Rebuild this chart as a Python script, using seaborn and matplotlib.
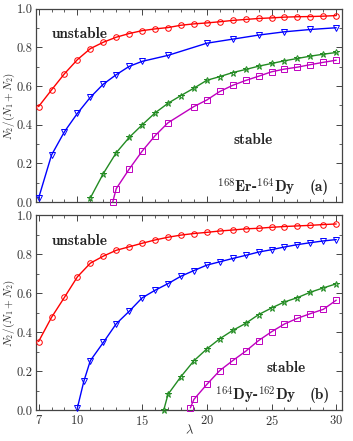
import numpy as np
import pandas as pd
import matplotlib
matplotlib.use("Agg")
import matplotlib.pyplot as plt
from matplotlib.ticker import MultipleLocator, FixedLocator
import seaborn as sns

# ---- data ----
# panel (a): 168Er-164Dy
a_red_x = list(range(7, 31))
a_red_y = [0.494, 0.58, 0.664, 0.737, 0.794, 0.827, 0.853, 0.872, 0.887, 0.896, 0.903, 0.915,
           0.922, 0.927, 0.933, 0.94, 0.945, 0.95, 0.953, 0.957, 0.959, 0.96, 0.962, 0.965]
a_blue_x = [7, 8, 9, 10, 11, 12, 13, 14, 15, 17, 20, 22, 24, 26, 28, 30]
a_blue_y = [0.02, 0.243, 0.364, 0.459, 0.542, 0.61, 0.659, 0.702, 0.728, 0.759,
            0.822, 0.843, 0.864, 0.881, 0.893, 0.902]
a_green_x = list(range(11, 31))
a_green_y = [0.021, 0.147, 0.255, 0.334, 0.399, 0.461, 0.511, 0.551, 0.589, 0.63,
             0.649, 0.67, 0.686, 0.703, 0.717, 0.731, 0.743, 0.755, 0.765, 0.774]
a_mag_x = [12.73, 13, 14, 15, 16, 17, 19, 20, 21, 22, 23, 24, 25, 26, 27, 28, 29, 30]
a_mag_y = [0.0, 0.069, 0.17, 0.263, 0.343, 0.41, 0.494, 0.528, 0.572, 0.604,
           0.629, 0.651, 0.674, 0.688, 0.698, 0.711, 0.723, 0.734]

# panel (b): 164Dy-162Dy
b_red_x = list(range(7, 31))
b_red_y = [0.352, 0.476, 0.579, 0.684, 0.754, 0.79, 0.82, 0.838, 0.856, 0.873, 0.887, 0.898,
           0.906, 0.912, 0.919, 0.924, 0.93, 0.933, 0.938, 0.942, 0.945, 0.948, 0.952, 0.955]
b_blue_x = [10, 10.5] + list(range(11, 31))
b_blue_y = [0.012, 0.149, 0.254, 0.347, 0.443, 0.507, 0.576, 0.615, 0.649, 0.687, 0.716,
            0.744, 0.761, 0.778, 0.794, 0.811, 0.823, 0.837, 0.849, 0.859, 0.868, 0.875]
b_green_x = [16.67] + list(range(17, 31))
b_green_y = [0.0, 0.081, 0.172, 0.253, 0.314, 0.366, 0.409, 0.445, 0.49, 0.524,
             0.555, 0.577, 0.605, 0.627, 0.648]
b_mag_x = [18.73] + list(range(19, 31))
b_mag_y = [0.012, 0.055, 0.132, 0.203, 0.254, 0.302, 0.357, 0.402, 0.442,
           0.471, 0.495, 0.517, 0.564]

colors = ["red", "blue", "forestgreen", "m"]
markers = ["o", "v", "*", "s"]

panels = [
    dict(series=[(a_red_x, a_red_y), (a_blue_x, a_blue_y), (a_green_x, a_green_y), (a_mag_x, a_mag_y)],
         stable=(23.6, 0.32), pair=r"$^{168}$Er-$^{164}$Dy", tag="(a)"),
    dict(series=[(b_red_x, b_red_y), (b_blue_x, b_blue_y), (b_green_x, b_green_y), (b_mag_x, b_mag_y)],
         stable=(26.1, 0.215), pair=r"$^{164}$Dy-$^{162}$Dy", tag="(b)"),
]

sns.set_style("ticks")
plt.rcParams["font.family"] = ["cmr10", "DejaVu Serif"]
plt.rcParams["mathtext.fontset"] = "cm"
plt.rcParams["axes.formatter.use_mathtext"] = True

fig = plt.figure(figsize=(3.53, 4.41), dpi=100)
ax_a = fig.add_axes([0.102, 0.542, 0.867, 0.438])
ax_b = fig.add_axes([0.102, 0.070, 0.867, 0.442])

for ax, p in zip([ax_a, ax_b], panels):
    for (xs, ys), c, mk in zip(p["series"], colors, markers):
        sns.lineplot(x=xs, y=ys, ax=ax, color=c, lw=1.0, marker=mk,
                     markersize=4.5 if mk == "*" else 4.0, markerfacecolor="none",
                     markeredgecolor=c, markeredgewidth=0.7, clip_on=False, zorder=3)
    ax.set_xlim(6.8, 30.45)
    ax.set_ylim(0, 1.0)
    ax.xaxis.set_major_locator(FixedLocator([7, 10, 15, 20, 25, 30]))
    ax.xaxis.set_minor_locator(MultipleLocator(1))
    ax.yaxis.set_major_locator(MultipleLocator(0.2))
    ax.yaxis.set_minor_locator(MultipleLocator(0.1))
    ax.yaxis.set_major_formatter(matplotlib.ticker.FormatStrFormatter("%.1f"))
    ax.tick_params(which="both", direction="in", top=True, right=True, colors="#444444",
                   labelcolor="#333333", labelsize=9)
    ax.tick_params(which="major", length=4, width=0.7, pad=2.5)
    ax.tick_params(which="minor", length=2, width=0.6)
    for s in ax.spines.values():
        s.set_color("#444444")
        s.set_linewidth(0.9)
    ax.set_ylabel(r"$N_2/(N_1+N_2)$", fontsize=8, color="#333333")
    ax.yaxis.set_label_coords(-0.063, 0.5)
    ax.text(10.2, 0.87, "unstable", fontsize=11, fontfamily="cmb10", ha="center", va="center")
    ax.text(p["stable"][0], p["stable"][1], "stable", fontsize=11, fontfamily="cmb10",
            ha="center", va="center")
    ax.text(23.8, 0.075, p["pair"], fontsize=11, fontfamily="cmb10", ha="center", va="center")
    ax.text(28.7, 0.075, p["tag"], fontsize=11, fontfamily="cmb10", ha="center", va="center")

ax_a.tick_params(labelbottom=False)
ax_b.set_xlabel(r"$\lambda$", fontsize=9, color="#333333")
ax_b.xaxis.set_label_coords(0.5, -0.07)

fig.savefig("out.png", dpi=100)
